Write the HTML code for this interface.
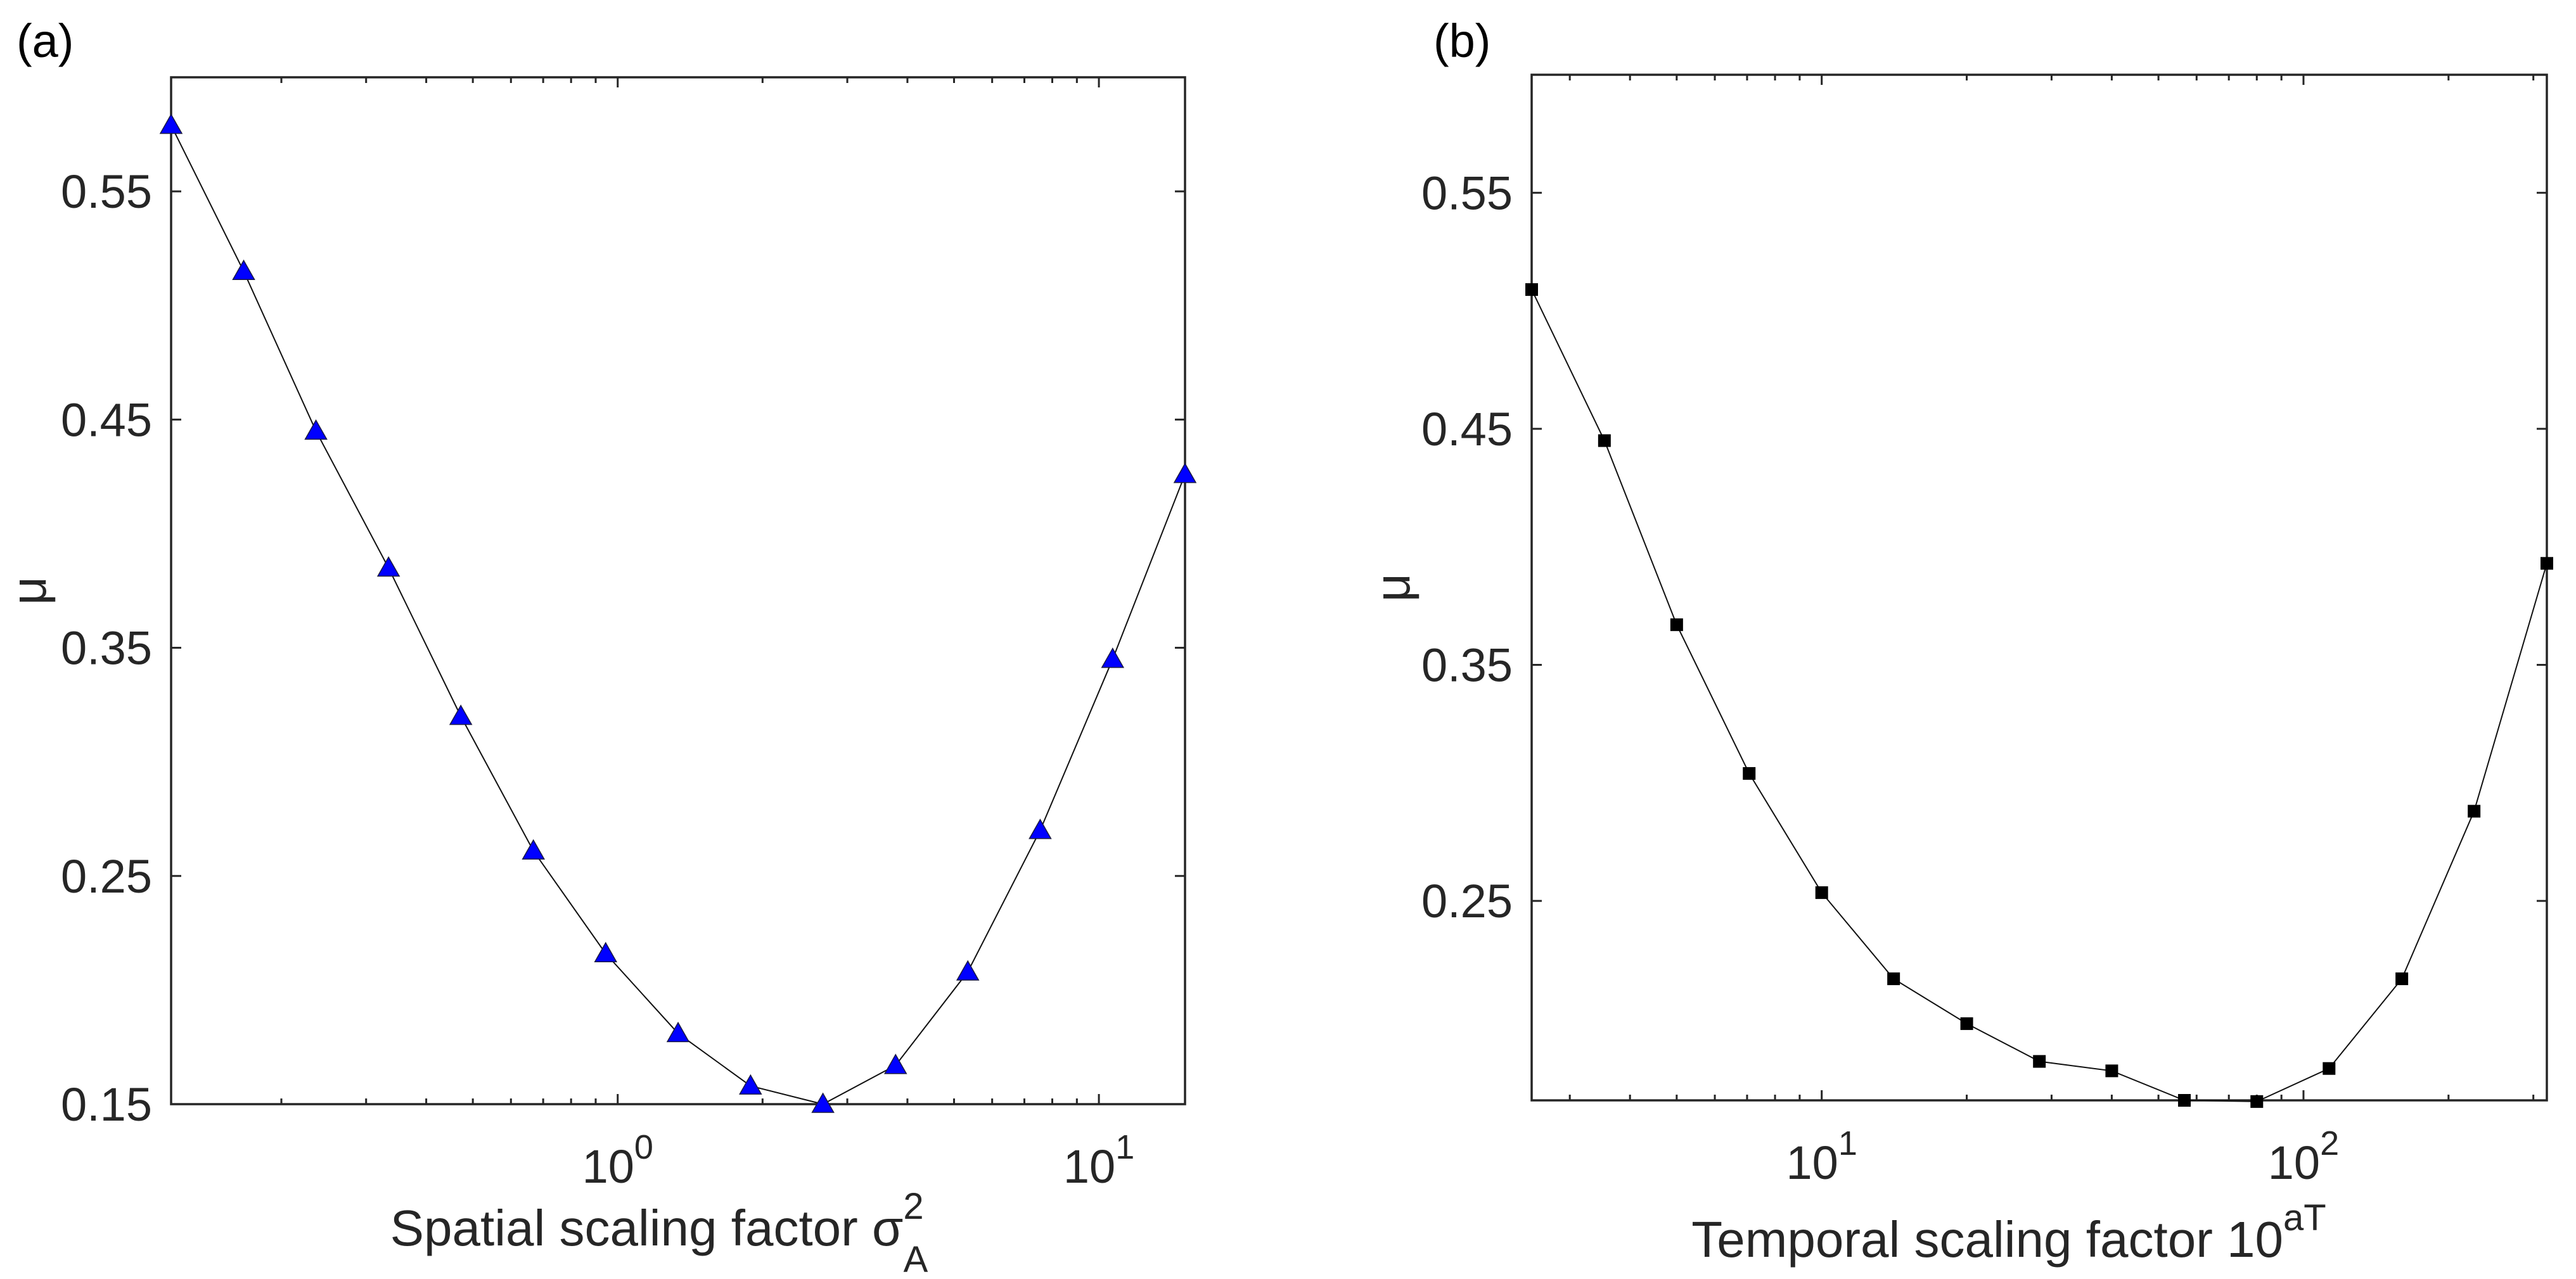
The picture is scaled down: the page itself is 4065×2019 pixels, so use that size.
<!DOCTYPE html>
<html><head><meta charset="utf-8"><style>
html,body{margin:0;padding:0;background:#fff}
svg{display:block;font-family:"Liberation Sans",Arial,sans-serif}
</style></head><body>
<svg id="fig" width="4065" height="2019" viewBox="0 0 4065 2019" xmlns="http://www.w3.org/2000/svg"></svg>
<script>
// Panel (a) data
const aX = [0.118,0.167,0.236,0.334,0.472,0.668,0.944,1.335,1.888,2.67,3.78,5.34,7.55,10.68,15.1];
const aY = [0.579,0.515,0.445,0.385,0.320,0.261,0.216,0.181,0.158,0.150,0.167,0.208,0.270,0.345,0.426];
// Panel (b) data
const bX = [2.5,3.54,5,7.07,10,14.1,20,28.3,40,56.6,80,113,160,226,320];
const bY = [0.509,0.445,0.367,0.304,0.2535,0.217,0.198,0.182,0.178,0.1655,0.165,0.179,0.217,0.288,0.393];
const aYTicks = [0.15,0.25,0.35,0.45,0.55];
const bYTicks = [0.25,0.35,0.45,0.55];
const aXDecades = [0,1];
const bXDecades = [1,2];

const NS="http://www.w3.org/2000/svg";
const svg=document.getElementById('fig');
function mk(tag,attrs,parent){const e=document.createElementNS(NS,tag);for(const k in attrs)e.setAttribute(k,attrs[k]);(parent||svg).appendChild(e);return e;}

function panel(cfg){
  const g=mk('g',{});
  
  
  const {L,R,T,B,xmin,xmax,ymin,ymax}=cfg;
  const lx0=Math.log10(xmin),lx1=Math.log10(xmax);
  const sx=v=>L+(Math.log10(v)-lx0)/(lx1-lx0)*(R-L);
  const sy=v=>B-(v-ymin)/(ymax-ymin)*(B-T);
  const ax='#262626';
  for(let d=Math.floor(lx0);d<=Math.ceil(lx1);d++){
    for(let m=1;m<10;m++){
      const v=m*Math.pow(10,d);
      if(v<xmin*0.999||v>xmax*1.001)continue;
      const x=sx(v);const len=(m===1)?16:9;
      const t1=mk('line',{x1:x,x2:x,y1:B,y2:B-len,stroke:ax,'stroke-width':3},g);
      
      
      const t2=mk('line',{x1:x,x2:x,y1:T,y2:T+len,stroke:ax,'stroke-width':3},g);
      
      
    }
  }
  cfg.yticks.forEach(v=>{
    const y=sy(v);
    mk('line',{x1:L,x2:L+16,y1:y,y2:y,stroke:ax,'stroke-width':3},g);
    mk('line',{x1:R,x2:R-16,y1:y,y2:y,stroke:ax,'stroke-width':3},g);
    const t=mk('text',{x:L-30,y:y+26,'text-anchor':'end','font-size':74,fill:'#262626'},g);
    t.textContent=v.toFixed(2);
    
    
  });
  cfg.decades.forEach(d=>{
    const x=sx(Math.pow(10,d));
    const t=mk('text',{x:x,y:B+124,'text-anchor':'middle','font-size':74,fill:'#262626'},g);
    
    
    t.appendChild(document.createTextNode('10'));
    const s=mk('tspan',{dy:-38,'font-size':54},t);s.textContent=String(d);
  });
  const box=mk('rect',{x:L,y:T,width:R-L,height:B-T,fill:'none',stroke:ax,'stroke-width':3.5},g);
  
  
  const pts=cfg.xs.map((v,i)=>sx(v)+','+sy(cfg.ys[i])).join(' ');
  const pl=mk('polyline',{points:pts,fill:'none',stroke:'#111','stroke-width':2},g);
  
  
  cfg.xs.forEach((v,i)=>{
    const x=sx(v),y=sy(cfg.ys[i]);
    let m;
    if(cfg.marker==='tri'){
      m=mk('polygon',{points:`${x},${y-17} ${x-17},${y+13} ${x+17},${y+13}`,fill:'#0000ff',stroke:'#1a1a40','stroke-width':1.5},g);
    }else{
      m=mk('rect',{x:x-10,y:y-10,width:20,height:20,fill:'#000'},g);
    }
    
    
  });
  const pl2=mk('text',{x:cfg.plx,y:90,'font-size':74,fill:'#000'},g);
  pl2.textContent=cfg.panelLabel;
  
  
  const yl=mk('text',{x:0,y:0,'text-anchor':'middle','font-size':78,fill:'#262626',transform:`translate(${cfg.ylx},${(T+B)/2}) rotate(-90)`},g);
  yl.textContent='μ';
  
  
  const xt=mk('text',{x:cfg.xtx,y:cfg.xty,'text-anchor':'middle','font-size':80,fill:'#262626'},g);
  
  
  cfg.title(xt);
}

panel({name:'panel-a',L:270,R:1870,T:122,B:1743,xmin:0.118,xmax:15.1,ymin:0.15,ymax:0.60,
  xs:aX,ys:aY,yticks:aYTicks,decades:aXDecades,marker:'tri',panelLabel:'(a)',plx:26,ylx:72,xtx:1040,xty:1966,
  title:t=>{t.appendChild(document.createTextNode('Spatial scaling factor σ'));
    const s1=mk('tspan',{dy:-42,'font-size':58},t);s1.textContent='2';
    const s2=mk('tspan',{dx:-32,dy:84,'font-size':58},t);s2.textContent='A';}});
panel({name:'panel-b',L:2417,R:4019,T:118,B:1737,xmin:2.5,xmax:320,ymin:0.1655,ymax:0.60,
  xs:bX,ys:bY,yticks:bYTicks,decades:bXDecades,marker:'sq',panelLabel:'(b)',plx:2262,ylx:2224,xtx:3170,xty:1984,
  title:t=>{t.appendChild(document.createTextNode('Temporal scaling factor 10'));
    const s1=mk('tspan',{dy:-42,'font-size':58},t);s1.textContent='aT';}});
</script>
</body></html>
